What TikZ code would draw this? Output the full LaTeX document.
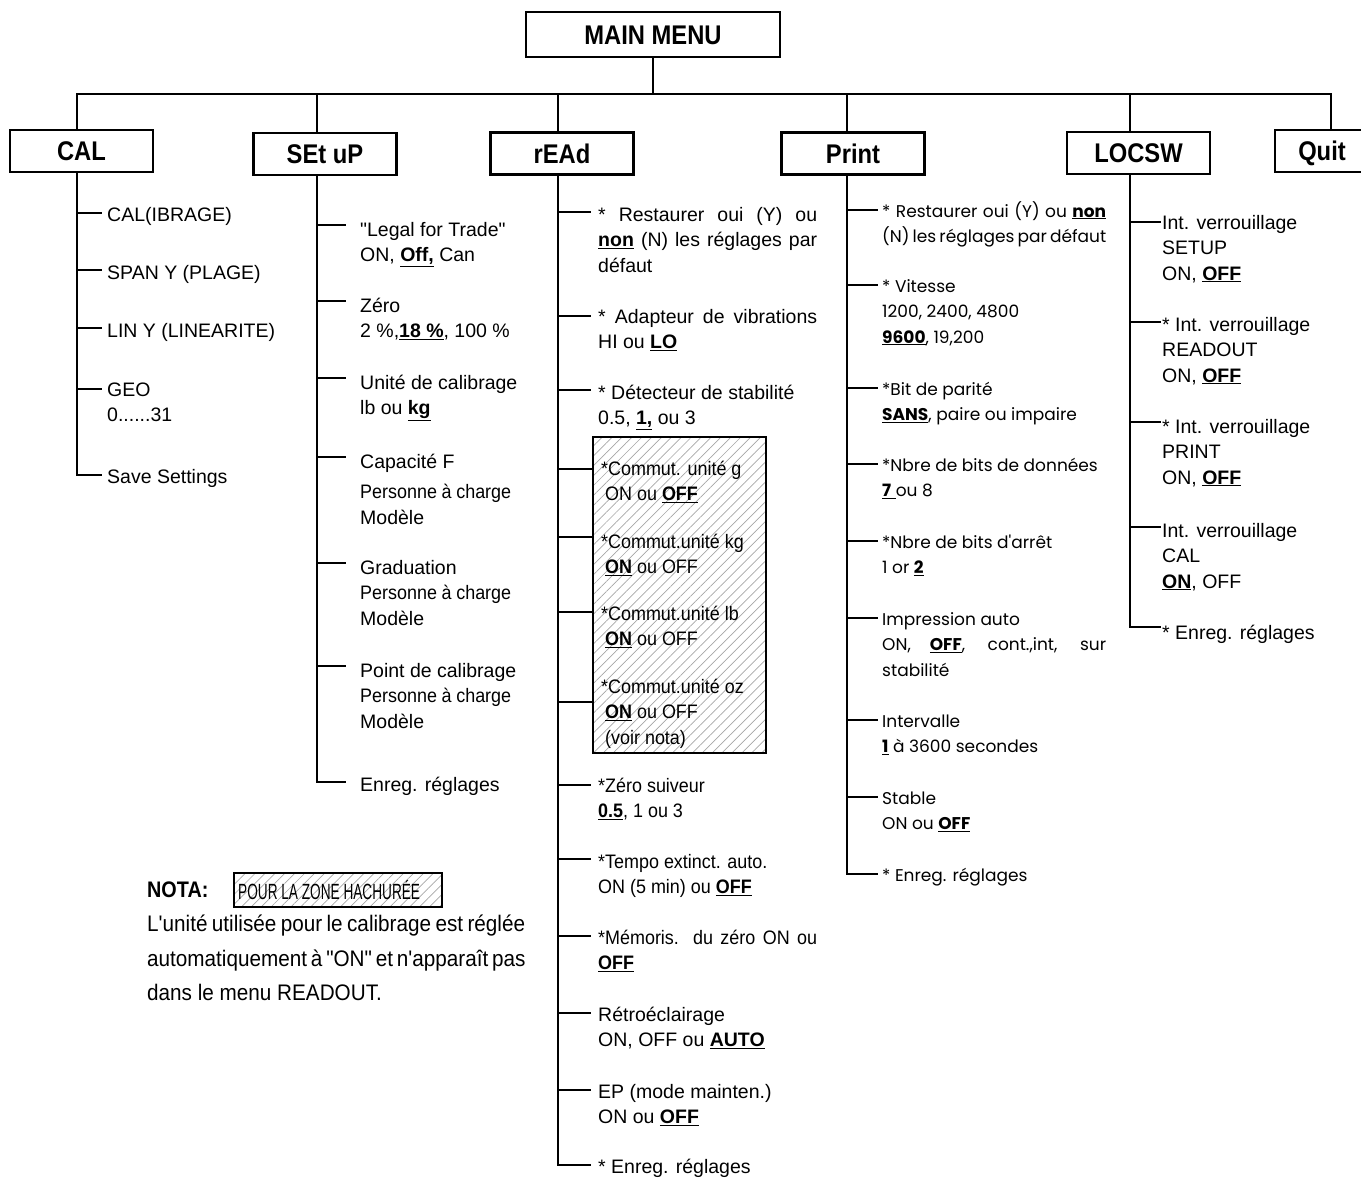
\documentclass[tikz,border=0pt]{standalone}
\usepackage{fontspec}
\setmainfont{Liberation Sans}[Ligatures=TeXOff]
\newfontfamily\cfont{Liberation Sans}[FakeStretch=0.92,Ligatures=TeXOff]
\newfontfamily\pfont{Poppins}[Ligatures=TeXOff]
\newfontfamily\hfont{Liberation Sans}[FakeStretch=0.88,Ligatures=TeXOff]
\newfontfamily\nfont{Liberation Sans}[FakeStretch=0.62,Ligatures=TeXOff]
\usetikzlibrary{patterns.meta}
\newcommand{\bu}[1]{\underline{\textbf{#1}}}
\newcommand{\J}[2]{\makebox[#1][s]{#2}}
\newcommand{\Pers}{{\cfont\J{151pt}{Personne à charge}}}
% name, colx, ticky, tickend x, textx, texty, style, text
\newcommand{\Itm}[8]{%
  \coordinate (#1t) at (#2,#3);
  \coordinate (#1e) at (#4,#3);
  \node[#7] (#1) at (#5,#6-11) {\strut #8};
  \draw[tree] (#1t) -- (#1e);}
\begin{document}
\begin{tikzpicture}[x=1pt,y=-1pt,
  tree/.style={line width=2.4pt, line cap=rect},
  menu/.style={draw, line width=2.4pt, minimum height=42pt, minimum width=143pt, inner sep=0pt,
     text height=19.5pt, text depth=0pt,
     font=\hfont\bfseries\fontsize{27}{30}\selectfont},
  item/.style={anchor=north west, inner sep=0pt, align=left, font=\fontsize{19.5}{25.5}\selectfont},
  citem/.style={item, font=\cfont\fontsize{19.5}{25.5}\selectfont},
  pitem/.style={item, font=\pfont\fontsize{17}{25.5}\selectfont},
  hatch/.style={draw, line width=2.4pt, pattern={Lines[angle=45,distance=7pt,line width=0.7pt]}, pattern color=black!35}]
\useasboundingbox (0,0) rectangle (1361,1178);

% main menu and level-1 boxes
\node[menu, minimum width=254pt, minimum height=45pt] (main) at (653,34.5) {MAIN MENU};
\node[menu] (cal) at (81.5,151) {CAL};
\node[menu] (setup) at (325,154) {SEt uP};
\node[menu] (read) at (562,153.5) {rEAd};
\node[menu] (print) at (853,153.5) {Print};
\node[menu] (locsw) at (1138.5,153) {LOCSW};
\node[menu, minimum width=94pt] (quit) at (1322,151) {Quit};

\coordinate (dcal) at (77,94);
\coordinate (dset) at (317,94);
\coordinate (dread) at (558,94);
\coordinate (dprint) at (847,94);
\coordinate (dlock) at (1130,94);
\coordinate (dquit) at (1331,94);

\draw[tree] (main.south) -- (main.south |- dcal);
\draw[tree] (dcal) -- (dquit);
\draw[tree] (dcal) -- (dcal |- cal.north);
\draw[tree] (dset) -- (dset |- setup.north);
\draw[tree] (dread) -- (dread |- read.north);
\draw[tree] (dprint) -- (dprint |- print.north);
\draw[tree] (dlock) -- (dlock |- locsw.north);
\draw[tree] (dquit) -- (dquit |- quit.north);

% hatched zone in rEAd column
\node[hatch, minimum width=173pt, minimum height=316pt, inner sep=0pt] (zone) at (679.5,595) {};

% CAL column
\Itm{c1}{77}{213}{101}{107}{214}{item}{CAL(IBRAGE)}
\Itm{c2}{77}{270}{101}{107}{272}{item}{SPAN Y (PLAGE)}
\Itm{c3}{77}{328}{101}{107}{330}{item}{LIN Y (LINEARITE)}
\Itm{c4}{77}{389}{101}{107}{389}{item}{GEO\\0......31}
\Itm{c5}{77}{475}{101}{107}{476}{item}{Save Settings}
\draw[tree] (dcal |- cal.south) -- (c5t);

% SEt uP column
\Itm{s1}{317}{225}{345}{360}{229}{item}{"Legal for Trade"\\ON, \bu{Off,} Can}
\Itm{s2}{317}{301}{345}{360}{305}{item}{Zéro\\2 \%,\bu{18 \%}, 100 \%}
\Itm{s3}{317}{378}{345}{360}{382}{item}{Unité de calibrage\\lb ou \bu{kg}}
\Itm{s4}{317}{457}{345}{360}{461}{item}{Capacité F\\[5pt]\Pers\\Modèle}
\Itm{s5}{317}{563}{345}{360}{567}{item}{Graduation\\\Pers\\Modèle}
\Itm{s6}{317}{666}{345}{360}{670}{item}{Point de calibrage\\\Pers\\Modèle}
\Itm{s7}{317}{782}{345}{360}{784}{item}{Enreg. réglages}
\draw[tree] (dset |- setup.south) -- (s7t);

% rEAd column
\Itm{r1}{558}{212}{590}{598}{214}{item}{\J{219pt}{* Restaurer oui (Y) ou}\\\J{219pt}{\bu{non} (N) les réglages par}\\défaut}
\Itm{r2}{558}{316}{590}{598}{316}{item}{\J{219pt}{* Adapteur de vibrations}\\HI ou \bu{LO}}
\Itm{r3}{558}{390}{590}{598}{392}{item}{* Détecteur de stabilité\\0.5, \bu{1,} ou 3}
\Itm{r4}{558}{469}{593}{601}{468}{citem}{*Commut. unité g\\\hspace{4pt}ON ou \bu{OFF}}
\Itm{r5}{558}{537}{593}{601}{541}{citem}{*Commut.unité kg\\\hspace{4pt}\bu{ON} ou OFF}
\Itm{r6}{558}{612}{593}{601}{613}{citem}{*Commut.unité lb\\\hspace{4pt}\bu{ON} ou OFF}
\Itm{r7}{558}{702}{593}{601}{686}{citem}{*Commut.unité oz\\\hspace{4pt}\bu{ON} ou OFF\\\hspace{4pt}(voir nota)}
\Itm{r8}{558}{785}{590}{598}{785}{citem}{*Zéro suiveur\\\bu{0.5}, 1 ou 3}
\Itm{r9}{558}{859}{590}{598}{861}{citem}{*Tempo extinct. auto.\\ON (5 min) ou \bu{OFF}}
\Itm{r10}{558}{936}{590}{598}{937}{citem}{\J{219pt}{*Mémoris. du zéro ON ou}\\\bu{OFF}}
\Itm{r11}{558}{1013}{590}{598}{1014}{item}{Rétroéclairage\\ON, OFF ou \bu{AUTO}}
\Itm{r12}{558}{1090}{590}{598}{1091}{item}{EP (mode mainten.)\\ON ou \bu{OFF}}
\Itm{r13}{558}{1165}{590}{598}{1166}{item}{* Enreg. réglages}
\draw[tree] (dread |- read.south) -- (r13t);

% Print column
\Itm{p1}{847}{210}{877}{882}{210}{pitem}{\J{224pt}{* Restaurer oui (Y) ou \bu{non}}\\\J{224pt}{(N) les réglages par défaut}}
\Itm{p2}{847}{285}{877}{882}{285}{pitem}{* Vitesse\\1200, 2400, 4800\\\bu{9600}, 19,200}
\Itm{p3}{847}{388}{877}{882}{388}{pitem}{*Bit de parité\\\bu{SANS}, paire ou impaire}
\Itm{p4}{847}{464}{877}{882}{464}{pitem}{*Nbre de bits de données\\\underline{\textbf{7}\ }ou 8}
\Itm{p5}{847}{541}{877}{882}{541}{pitem}{*Nbre de bits d'arrêt\\1 or \bu{2}}
\Itm{p6}{847}{618}{877}{882}{618}{pitem}{Impression auto\\\J{224pt}{ON, \bu{OFF}, cont.,int, sur}\\stabilité}
\Itm{p7}{847}{720}{877}{882}{720}{pitem}{Intervalle\\\bu{1} à 3600 secondes}
\Itm{p8}{847}{797}{877}{882}{797}{pitem}{Stable\\ON ou \bu{OFF}}
\Itm{p9}{847}{874}{877}{882}{874}{pitem}{* Enreg. réglages}
\draw[tree] (dprint |- print.south) -- (p9t);

% LOCSW column
\Itm{l1}{1130}{222}{1160}{1162}{222}{item}{Int. verrouillage\\SETUP\\ON, \bu{OFF}}
\Itm{l2}{1130}{322}{1160}{1162}{324}{item}{* Int. verrouillage\\READOUT\\ON, \bu{OFF}}
\Itm{l3}{1130}{422}{1160}{1162}{426}{item}{* Int. verrouillage\\PRINT\\ON, \bu{OFF}}
\Itm{l4}{1130}{527}{1160}{1162}{530}{item}{Int. verrouillage\\CAL\\\bu{ON}, OFF}
\Itm{l5}{1130}{627}{1160}{1162}{632}{item}{* Enreg. réglages}
\draw[tree] (dlock |- locsw.south) -- (l5t);

% NOTA
\node[anchor=base west, inner sep=0pt, font=\hfont\bfseries\fontsize{22.5}{30}\selectfont] (nota) at (147,897) {NOTA:};
\node[hatch, minimum width=208pt, minimum height=34pt, inner sep=0pt] (nbox) at (338,890) {};
\node[anchor=west, inner sep=0pt, font=\nfont\fontsize{22}{24}\selectfont] (ntext) at (238,890) {POUR LA ZONE HACHURÉE};
\node[anchor=north west, inner sep=0pt, align=left, font=\cfont\fontsize{22.5}{34.5}\selectfont] (nbody) at (147,915)
  {\J{378pt}{L'unité utilisée pour le calibrage est réglée}\\
   \J{378pt}{automatiquement à "ON" et n'apparaît pas}\\
   dans le menu READOUT.};
\end{tikzpicture}
\end{document}
